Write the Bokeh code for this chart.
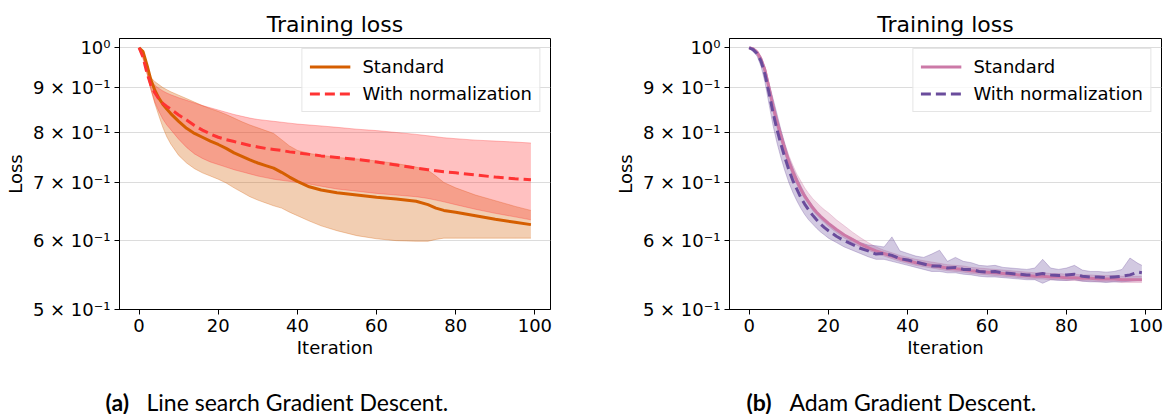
from bokeh.plotting import figure
from bokeh.layouts import row, column
from bokeh.models import Range1d, FixedTicker, Legend, LegendItem, ColumnDataSource
from bokeh.embed import file_html
from bokeh.resources import INLINE
from bokeh.core.properties import value

# ---------------- data: (a) Line search Gradient Descent ----------------
iters_a = [0, 1, 2, 3, 4, 5, 6, 7, 8, 10, 12, 14, 16, 18, 20, 22, 24, 26, 28, 30,
           32, 34, 36, 38, 40, 43, 46, 50, 55, 60, 65, 70, 73, 75, 77, 80, 85, 90, 95, 99]
std_a = [1.0, 0.99, 0.955, 0.918, 0.893, 0.875, 0.861, 0.85, 0.84, 0.823, 0.808, 0.797, 0.789, 0.781, 0.774, 0.766, 0.757, 0.750, 0.743, 0.737,
         0.732, 0.727, 0.719, 0.710, 0.702, 0.692, 0.686, 0.681, 0.677, 0.673, 0.670, 0.666, 0.660, 0.654, 0.650, 0.647, 0.641, 0.635, 0.630, 0.626]
std_a_lo = [1.0, 0.985, 0.935, 0.895, 0.862, 0.835, 0.81, 0.79, 0.775, 0.752, 0.737, 0.726, 0.718, 0.712, 0.706, 0.699, 0.690, 0.682, 0.674, 0.668,
            0.663, 0.658, 0.654, 0.647, 0.641, 0.632, 0.624, 0.616, 0.608, 0.603, 0.600, 0.599, 0.599, 0.602, 0.604, 0.604, 0.604, 0.604, 0.604, 0.604]
std_a_hi = [1.0, 0.975, 0.94, 0.924, 0.914, 0.907, 0.90, 0.895, 0.89, 0.882, 0.874, 0.866, 0.858, 0.851, 0.845, 0.838, 0.830, 0.822, 0.815, 0.809,
            0.803, 0.797, 0.784, 0.771, 0.762, 0.756, 0.752, 0.748, 0.745, 0.741, 0.736, 0.729, 0.723, 0.712, 0.700, 0.690, 0.677, 0.667, 0.657, 0.650]
norm_a = [1.0, 0.975, 0.935, 0.905, 0.887, 0.873, 0.863, 0.856, 0.85, 0.837, 0.826, 0.814, 0.804, 0.796, 0.789, 0.784, 0.780, 0.776, 0.772, 0.769,
          0.766, 0.764, 0.762, 0.759, 0.757, 0.754, 0.751, 0.748, 0.744, 0.739, 0.733, 0.727, 0.724, 0.722, 0.720, 0.718, 0.714, 0.710, 0.707, 0.705]
norm_a_lo = [1.0, 0.98, 0.935, 0.895, 0.865, 0.845, 0.828, 0.815, 0.805, 0.785, 0.768, 0.755, 0.746, 0.739, 0.734, 0.729, 0.724, 0.720, 0.716, 0.712,
             0.709, 0.706, 0.704, 0.702, 0.700, 0.697, 0.693, 0.688, 0.684, 0.680, 0.677, 0.674, 0.671, 0.668, 0.665, 0.660, 0.652, 0.645, 0.639, 0.634]
norm_a_hi = [1.0, 0.97, 0.935, 0.915, 0.905, 0.898, 0.892, 0.887, 0.883, 0.876, 0.870, 0.864, 0.858, 0.853, 0.848, 0.843, 0.838, 0.834, 0.830, 0.827,
             0.825, 0.823, 0.821, 0.819, 0.817, 0.815, 0.813, 0.810, 0.806, 0.803, 0.799, 0.795, 0.792, 0.790, 0.788, 0.786, 0.783, 0.781, 0.779, 0.777]

# ---------------- data: (b) Adam Gradient Descent ----------------
iters_b = list(range(0, 21)) + list(range(22, 99, 2)) + [99]
std_b = [1.0, 0.997, 0.988, 0.97, 0.942, 0.90, 0.857, 0.822, 0.792, 0.764, 0.74, 0.72, 0.703, 0.688, 0.675, 0.665, 0.655, 0.647, 0.64, 0.634, 0.628,
         0.618, 0.609, 0.602, 0.595, 0.589, 0.584, 0.580, 0.576, 0.572, 0.569, 0.566, 0.564, 0.562, 0.560, 0.558, 0.557, 0.556, 0.554, 0.553, 0.552,
         0.551, 0.550, 0.549, 0.548, 0.547, 0.546, 0.546, 0.545, 0.545, 0.544, 0.544, 0.543, 0.543, 0.542, 0.542, 0.542, 0.541, 0.541, 0.541, 0.541]
std_b_lo = [1.0, 0.993, 0.982, 0.962, 0.932, 0.889, 0.846, 0.811, 0.782, 0.755, 0.732, 0.713, 0.697, 0.682, 0.670, 0.660, 0.650, 0.642, 0.635, 0.629, 0.623,
            0.613, 0.604, 0.597, 0.590, 0.585, 0.580, 0.576, 0.572, 0.568, 0.565, 0.562, 0.560, 0.558, 0.556, 0.554, 0.553, 0.552, 0.550, 0.549, 0.548,
            0.547, 0.546, 0.545, 0.544, 0.543, 0.542, 0.542, 0.541, 0.541, 0.540, 0.540, 0.539, 0.539, 0.538, 0.538, 0.538, 0.537, 0.537, 0.537, 0.537]
std_b_hi = [1.0, 1.0, 0.994, 0.977, 0.951, 0.911, 0.869, 0.834, 0.804, 0.776, 0.752, 0.733, 0.716, 0.703, 0.690, 0.680, 0.671, 0.664, 0.657, 0.651, 0.646,
            0.634, 0.624, 0.614, 0.605, 0.597, 0.590, 0.585, 0.581, 0.577, 0.574, 0.571, 0.569, 0.567, 0.565, 0.563, 0.562, 0.561, 0.559, 0.558, 0.557,
            0.556, 0.555, 0.554, 0.553, 0.552, 0.551, 0.551, 0.550, 0.550, 0.549, 0.549, 0.548, 0.548, 0.547, 0.547, 0.547, 0.546, 0.546, 0.546, 0.546]
norm_b = [1.0, 0.995, 0.985, 0.965, 0.932, 0.888, 0.843, 0.806, 0.775, 0.748, 0.724, 0.704, 0.688, 0.673, 0.661, 0.651, 0.642, 0.634, 0.627, 0.621, 0.616,
          0.607, 0.600, 0.594, 0.588, 0.584, 0.579, 0.580, 0.577, 0.572, 0.570, 0.567, 0.564, 0.561, 0.561, 0.558, 0.559, 0.556, 0.556, 0.553, 0.552,
          0.553, 0.551, 0.550, 0.549, 0.548, 0.548, 0.550, 0.548, 0.547, 0.548, 0.549, 0.546, 0.545, 0.545, 0.544, 0.545, 0.546, 0.548, 0.552, 0.551]
norm_b_lo = [1.0, 0.99, 0.978, 0.952, 0.912, 0.862, 0.815, 0.778, 0.748, 0.722, 0.700, 0.682, 0.667, 0.654, 0.643, 0.634, 0.627, 0.620, 0.614, 0.609, 0.604,
             0.597, 0.590, 0.585, 0.580, 0.575, 0.571, 0.571, 0.568, 0.565, 0.562, 0.559, 0.556, 0.553, 0.553, 0.551, 0.551, 0.549, 0.548, 0.546, 0.545,
             0.545, 0.544, 0.543, 0.542, 0.541, 0.541, 0.536, 0.541, 0.540, 0.540, 0.541, 0.539, 0.538, 0.538, 0.537, 0.538, 0.538, 0.539, 0.540, 0.540]
norm_b_hi = [1.0, 1.0, 0.99, 0.976, 0.948, 0.91, 0.875, 0.84, 0.805, 0.775, 0.748, 0.728, 0.71, 0.694, 0.68, 0.668, 0.658, 0.648, 0.64, 0.633, 0.627,
             0.617, 0.610, 0.603, 0.597, 0.593, 0.592, 0.590, 0.606, 0.584, 0.580, 0.576, 0.574, 0.579, 0.585, 0.568, 0.574, 0.568, 0.566, 0.562, 0.561,
             0.562, 0.559, 0.558, 0.557, 0.556, 0.558, 0.571, 0.558, 0.556, 0.558, 0.562, 0.555, 0.553, 0.553, 0.552, 0.553, 0.556, 0.573, 0.565, 0.562]

y_ticks = [0.5, 0.6, 0.7, 0.8, 0.9, 1.0]
y_tick_labels = ["5 × 10⁻¹", "6 × 10⁻¹", "7 × 10⁻¹", "8 × 10⁻¹", "9 × 10⁻¹", "10⁰"]
x_ticks = [0, 20, 40, 60, 80, 100]
series_labels = ["Standard", "With normalization"]

FONT = "DejaVu Sans"


def make_panel(x, s_mean, s_lo, s_hi, n_mean, n_lo, n_hi, c_std, c_norm, border_left, border_right):
    p = figure(width=586, height=360, y_axis_type="log",
               x_range=Range1d(-4.95, 103.95), y_range=Range1d(0.5, 1.0248),
               output_backend="svg", toolbar_location=None,
               min_border_left=border_left, min_border_right=border_right,
               min_border_top=38, min_border_bottom=49)
    p.title.text = "Training loss"
    p.title.align = "center"
    p.title.text_font = FONT
    p.title.text_font_size = "22px"
    p.title.text_font_style = "normal"
    p.title.text_color = "black"
    p.title.standoff = 4

    src = ColumnDataSource(dict(x=x, sm=s_mean, slo=s_lo, shi=s_hi, nm=n_mean, nlo=n_lo, nhi=n_hi))
    p.varea(x="x", y1="slo", y2="shi", source=src, fill_color=c_std, fill_alpha=0.3)
    p.line(x="x", y="slo", source=src, line_color=c_std, line_alpha=0.3, line_width=1)
    p.line(x="x", y="shi", source=src, line_color=c_std, line_alpha=0.3, line_width=1)
    p.varea(x="x", y1="nlo", y2="nhi", source=src, fill_color=c_norm, fill_alpha=0.3)
    p.line(x="x", y="nlo", source=src, line_color=c_norm, line_alpha=0.3, line_width=1)
    p.line(x="x", y="nhi", source=src, line_color=c_norm, line_alpha=0.3, line_width=1)
    r1 = p.line(x="x", y="sm", source=src, line_color=c_std, line_width=3)
    r2 = p.line(x="x", y="nm", source=src, line_color=c_norm, line_width=3, line_dash="10 5")

    yt = FixedTicker(ticks=y_ticks, minor_ticks=[])
    p.yaxis.ticker = yt
    p.ygrid.ticker = yt
    p.yaxis.major_label_overrides = {t: l for t, l in zip(y_ticks, y_tick_labels)}
    xt = FixedTicker(ticks=x_ticks, minor_ticks=[])
    p.xaxis.ticker = xt
    p.xgrid.visible = False
    p.ygrid.grid_line_color = "#dcdcdc"
    p.ygrid.grid_line_width = 1

    for ax in (p.xaxis[0], p.yaxis[0]):
        ax.major_label_text_font = FONT
        ax.major_label_text_font_size = "18px"
        ax.major_label_text_color = "black"
        ax.axis_label_text_font = FONT
        ax.axis_label_text_font_size = "18px"
        ax.axis_label_text_font_style = "normal"
        ax.axis_label_text_color = "black"
        ax.axis_line_color = "black"
        ax.major_tick_line_color = "black"
        ax.major_tick_in = 0
        ax.major_tick_out = 5
        ax.minor_tick_line_color = None
        ax.major_label_standoff = 4
    p.xaxis.axis_label = "Iteration"
    p.yaxis.axis_label = "Loss"
    p.xaxis.axis_label_standoff = 2
    p.yaxis.axis_label_standoff = 4

    p.outline_line_color = "black"
    p.outline_line_alpha = 1
    p.background_fill_color = "white"
    p.border_fill_color = "white"

    leg = Legend(items=[LegendItem(label=series_labels[0], renderers=[r1]),
                        LegendItem(label=series_labels[1], renderers=[r2])],
                 location="top_right")
    leg.label_text_font = FONT
    leg.label_text_font_size = "18px"
    leg.label_text_color = "black"
    leg.glyph_width = 41
    leg.glyph_height = 21
    leg.label_standoff = 12
    leg.spacing = 6
    leg.padding = 7
    leg.margin = 10
    leg.border_line_color = "#cccccc"
    leg.background_fill_alpha = 0.8
    p.add_layout(leg)
    return p


p1 = make_panel(iters_a, std_a, std_a_lo, std_a_hi, norm_a, norm_a_lo, norm_a_hi,
                "#D55E00", "#FF3333", 119, 36)
p2 = make_panel(iters_b, std_b, std_b_lo, std_b_hi, norm_b, norm_b_lo, norm_b_hi,
                "#CC79A7", "#6A4C9C", 143, 11)

cap = figure(width=1172, height=54, x_range=Range1d(0, 1172), y_range=Range1d(0, 54),
             output_backend="svg", toolbar_location=None, min_border=0)
cap.axis.visible = False
cap.grid.visible = False
cap.outline_line_color = None
cap.text(x=[105, 746], y=[13, 13], text=["(a)", "(b)"], text_font=value("Lato"),
         text_font_size="23px", text_font_style="bold", text_baseline="middle", text_align="left",
         text_color="black")
cap.text(x=[146, 789], y=[13, 13], text=["Line search Gradient Descent.", "Adam Gradient Descent."],
         text_font=value("Lato"), text_font_size="23px", text_baseline="middle", text_align="left",
         text_color="black")

layout = column(row(p1, p2), cap)
open("out.html", "w").write(file_html(layout, INLINE))
